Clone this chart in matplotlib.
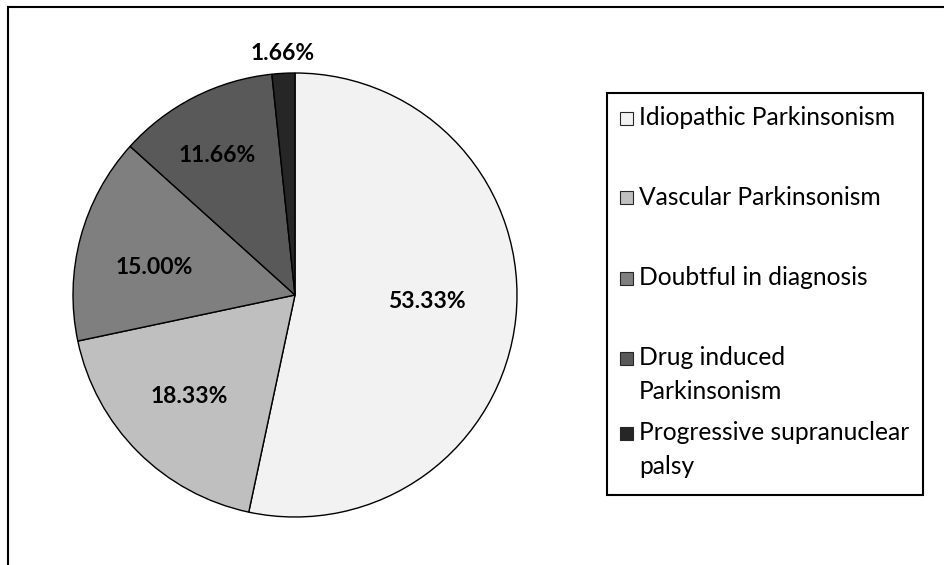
import numpy as np
import matplotlib.pyplot as plt
from matplotlib.lines import Line2D
from matplotlib.patches import Rectangle

# Data
categories = ['Idiopathic Parkinsonism', 'Vascular Parkinsonism', 'Doubtful in diagnosis',
              'Drug induced\nParkinsonism', 'Progressive supranuclear\npalsy']
values = [53.33, 18.33, 15.00, 11.66, 1.66]
pct_labels = ['53.33%', '18.33%', '15.00%', '11.66%', '1.66%']
colors = ['#f2f2f2', '#bfbfbf', '#7f7f7f', '#595959', '#262626']

plt.rcParams['font.family'] = ['Lato', 'DejaVu Sans']

W, H = 945, 565
fig = plt.figure(figsize=(W / 100, H / 100), dpi=100)

# outer frame (only left and top edges are visible in the crop)
fig.add_artist(Line2D([8 / W, 8 / W], [0, 1 - 7 / H], transform=fig.transFigure, color='black', lw=1.5))
fig.add_artist(Line2D([8 / W, 1], [1 - 7 / H, 1 - 7 / H], transform=fig.transFigure, color='black', lw=1.5))

# pie axes: centre (295, 295) px, radius 222 px
cx, cy, r = 295, 295, 222
ax = fig.add_axes([(cx - r) / W, 1 - (cy + r) / H, 2 * r / W, 2 * r / H])
wedges, _ = ax.pie(values, colors=colors, startangle=90, counterclock=False,
                   wedgeprops=dict(edgecolor='black', linewidth=1.0))
ax.set_xlim(-1, 1)
ax.set_ylim(-1, 1)
ax.set_aspect('equal')
ax.axis('off')

# percentage labels inside the slices (last one sits outside)
label_r = [0.595, 0.66, 0.645, 0.72, 1.09]
label_nudge = [3, -1, 4, 2, 0]  # degrees
for w, txt, lr, nd in zip(wedges, pct_labels, label_r, label_nudge):
    mid = np.deg2rad((w.theta1 + w.theta2) / 2 + nd)
    ax.text(lr * np.cos(mid), lr * np.sin(mid), txt, ha='center', va='center',
            fontsize=16.5, fontweight='bold', color='black')

# legend drawn by hand to follow the Excel layout
box_l, box_r, box_t, box_b = 607, 923, 93, 495
fig.add_artist(Rectangle((box_l / W, 1 - box_b / H), (box_r - box_l) / W, (box_b - box_t) / H,
                         transform=fig.transFigure, fill=False, edgecolor='black', lw=1.5))
first_line_y = [118, 198, 278, 358, 433]
for name, col, y in zip(categories, colors, first_line_y):
    fig.add_artist(Rectangle((620 / W, 1 - (y + 6.5) / H), 13 / W, 13 / H,
                             transform=fig.transFigure, facecolor=col, edgecolor='#262626', lw=0.8))
    fig.text(639 / W, 1 - (y - 12) / H, name, ha='left', va='top',
             fontsize=17.7, linespacing=1.6, color='black')

fig.savefig('out.png', dpi=100)
